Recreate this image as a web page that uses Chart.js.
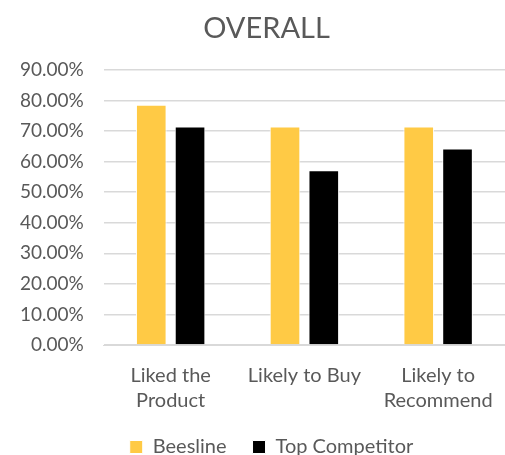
<!DOCTYPE html>
<html lang="en">
<head>
    <meta charset="utf-8">
    <title>Overall</title>
    <script src="https://cdn.jsdelivr.net/npm/chart.js@4.4.1/dist/chart.umd.min.js"></script>
    <style>
        html, body { margin: 0; padding: 0; background: #fff; }
        #wrap { width: 505px; height: 455px; }
    </style>
</head>
<body>
    <div id="wrap"><canvas id="bar-chart"></canvas></div>
    <script>
        // survey results, percent of respondents
        const categories = [["Liked the", "Product"], "Likely to Buy", ["Likely to", "Recommend"]];
        const beesline = [78.57, 71.43, 71.43];
        const topCompetitor = [71.43, 57.14, 64.29];
        const yTicks = [0, 10, 20, 30, 40, 50, 60, 70, 80, 90];

        const grey = "#595959";
        const font = "Lato, 'Open Sans', sans-serif";
        const legendGap = 26;

        // title and legend sit a bit right of the canvas centre, over the plot;
        // the legend keeps wide gaps between items but only a short box height
        const placeBlocks = {
            id: 'placeBlocks',
            afterInit(chart) {
                const lg = chart.legend;
                const fit = lg.fit;
                lg.fit = function () {
                    fit.call(this);
                    this.height = 32;
                };
            },
            afterLayout(chart) {
                const t = chart.titleBlock;
                if (t) { t.left += 14; t.right += 14; }
                const lg = chart.legend;
                lg.top -= legendGap - 14;
                lg.left += 19;
                lg.right += 19;
            }
        };

        new Chart(document.getElementById("bar-chart"), {
            type: 'bar',
            data: {
                labels: categories,
                datasets: [{
                    label: "Beesline",
                    data: beesline,
                    backgroundColor: "#ffca45",
                    borderColor: "#ffffff",
                    borderWidth: 1,
                    barPercentage: 0.79,
                    categoryPercentage: 0.58
                }, {
                    label: "Top Competitor",
                    data: topCompetitor,
                    backgroundColor: "#000000",
                    borderColor: "#ffffff",
                    borderWidth: 1,
                    barPercentage: 0.79,
                    categoryPercentage: 0.58
                }]
            },
            options: {
                responsive: true,
                maintainAspectRatio: false,
                animation: false,
                layout: { padding: { left: 0, right: 0, top: 7, bottom: 0 } },
                plugins: {
                    title: {
                        display: true,
                        text: "OVERALL",
                        color: grey,
                        font: { family: font, size: 29, weight: 'normal' },
                        padding: { top: 4, bottom: 24 }
                    },
                    legend: {
                        position: 'bottom',
                        labels: {
                            color: grey,
                            font: { family: font, size: 20 },
                            boxWidth: 13,
                            boxHeight: 13,
                            padding: legendGap
                        }
                    },
                    tooltip: { enabled: false }
                },
                scales: {
                    x: {
                        grid: { display: false },
                        border: { color: "#d9d9d9" },
                        ticks: {
                            color: grey,
                            font: { family: font, size: 20, lineHeight: 1.25 },
                            maxRotation: 0,
                            padding: 10
                        }
                    },
                    y: {
                        min: 0,
                        max: 90,
                        afterBuildTicks: (axis) => {
                            axis.ticks = yTicks.map(v => ({ value: v }));
                        },
                        grid: { color: "#d9d9d9", lineWidth: 1.5, drawTicks: false },
                        border: { display: false },
                        ticks: {
                            color: grey,
                            font: { family: font, size: 19 },
                            padding: 20,
                            callback: (v) => v.toFixed(2) + "%"
                        }
                    }
                }
            },
            plugins: [placeBlocks]
        });
    </script>
</body>
</html>
